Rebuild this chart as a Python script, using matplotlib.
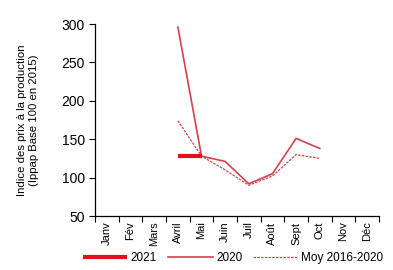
import matplotlib.pyplot as plt

plt.rcParams['font.family'] = ['Liberation Sans', 'DejaVu Sans']

months = ["Janv", "Fév", "Mars", "Avril", "Mai", "Juin", "Juil", "Août",
          "Sept", "Oct", "Nov", "Déc"]

# index positions of the months with values
idx_2021 = [3, 4]
vals_2021 = [128, 128]

idx_2020 = [3, 4, 5, 6, 7, 8, 9]
vals_2020 = [296, 128, 121, 92, 105, 151, 138]

idx_moy = [3, 4, 5, 6, 7, 8, 9]
vals_moy = [174, 128, 110, 90, 102, 130, 125]

red_thick = '#e3101c'
red_thin = '#d8404c'

fig = plt.figure(figsize=(3.93, 2.70), dpi=100)
ax = fig.add_axes([0.242, 0.2, 0.722, 0.711])

x21 = [i + 0.5 for i in idx_2021]
x20 = [i + 0.5 for i in idx_2020]
xm = [i + 0.5 for i in idx_moy]

ax.plot(x21, vals_2021, color=red_thick, linewidth=3, label="2021",
        solid_capstyle='butt', zorder=3)
ax.plot(x20, vals_2020, color=red_thin, linewidth=1.2, label="2020")
ax.plot(xm, vals_moy, color=red_thin, linewidth=0.9, linestyle=(0, (2, 1)),
        label="Moy 2016-2020")

ax.set_xlim(0, 12)
ax.set_ylim(50, 300)
ax.set_yticks([50, 100, 150, 200, 250, 300])

# ticks at month boundaries, labels at month centres
ax.set_xticks(range(13))
ax.set_xticklabels([])
ax.set_xticks([i + 0.5 for i in range(12)], minor=True)
ax.set_xticklabels(months, minor=True, rotation=90, fontsize=8)
ax.tick_params(axis='x', which='minor', length=0, pad=4)
ax.tick_params(axis='x', which='major', length=4, width=0.8)
ax.tick_params(axis='y', labelsize=10, length=4, width=0.8)

for s in ['top', 'right']:
    ax.spines[s].set_visible(False)
for s in ['left', 'bottom']:
    ax.spines[s].set_linewidth(0.9)

ax.set_ylabel("Indice des prix à la production\n(Ippap Base 100 en 2015)",
              fontsize=8.2, labelpad=16)

fig.legend(loc='center', bbox_to_anchor=(0.593, 0.045), ncol=3, frameon=False,
           fontsize=8.5, handlelength=3.8, columnspacing=0.9, handletextpad=0.3)

fig.savefig("out.png", dpi=100)
